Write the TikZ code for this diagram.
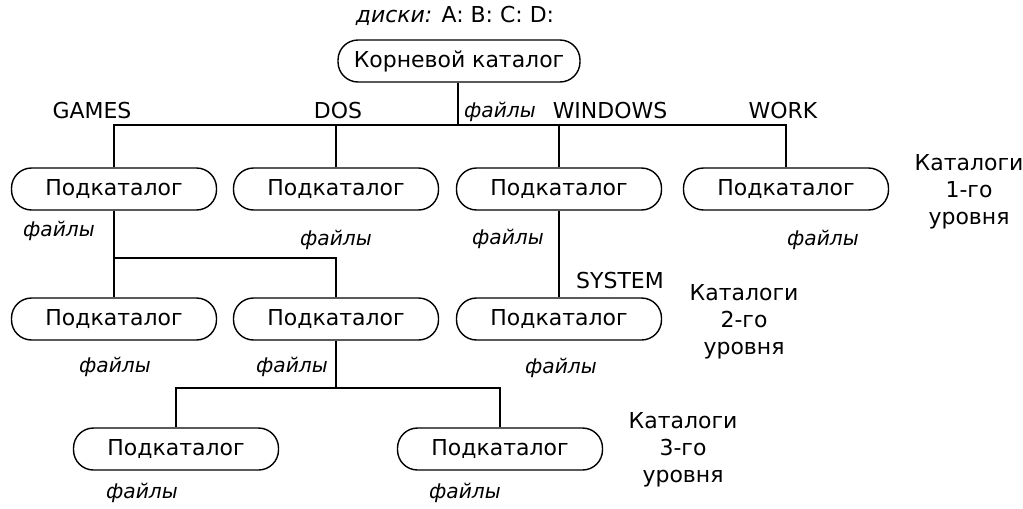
\documentclass[tikz,border=0pt]{standalone}
\usepackage{fontspec}
\setmainfont{DejaVu Sans}
\usetikzlibrary{calc}

\begin{document}
\begin{tikzpicture}[x = 0.02cm, y = -0.02cm,
        dirbox/.style = {draw, line width = 0.8pt, rounded corners = 0.4cm, minimum width = 4.1cm, minimum height = 0.84cm, font = \fontsize{12.5}{14}\selectfont},
        lbl/.style = {font = \fontsize{12.5}{14}\selectfont},
        files/.style = {font = \fontsize{11.5}{14}\selectfont\itshape},
        levellbl/.style = {align = center, font = \fontsize{12.5}{15.5}\selectfont},
        conn/.style = {line width = 0.6pt}] % directory tree
        \useasboundingbox (0, 0) rectangle (1023, 508);

        % Root
        \node[lbl] (disks) at (455, 16) {\textit{диски:} A: B: C: D:};
        \node[dirbox, minimum width = 4.84cm] (root) at (459, 61) {Корневой каталог};
        \node[lbl] (nGames) at (92, 110) {GAMES};
        \node[lbl] (nDos) at (338, 110) {DOS};
        \node[files] (fRoot) at (500, 112) {файлы};
        \node[lbl] (nWin) at (610, 110) {WINDOWS};
        \node[lbl] (nWork) at (783, 110) {WORK};

        % Level 1
        \node[dirbox] (dGames) at (114, 189) {Подкаталог};
        \node[dirbox] (dDos) at (336, 189) {Подкаталог};
        \node[dirbox] (dWin) at (559, 189) {Подкаталог};
        \node[dirbox] (dWork) at (786, 189) {Подкаталог};
        \node[files] (fGames) at (59, 231) {файлы};
        \node[files] (fDos) at (336, 240) {файлы};
        \node[files] (fWin) at (508, 239) {файлы};
        \node[files] (fWork) at (823, 240) {файлы};
        \node[levellbl] (lvl1) at (969, 192) {Каталоги\\1-го\\уровня};

        % Level 2
        \node[dirbox] (sA) at (114, 319) {Подкаталог};
        \node[dirbox] (sB) at (336, 319) {Подкаталог};
        \node[dirbox] (sSys) at (559, 319) {Подкаталог};
        \node[lbl] (nSys) at (620, 280) {SYSTEM};
        \node[files] (fA) at (115, 367) {файлы};
        \node[files] (fB) at (292, 367) {файлы};
        \node[files] (fSys) at (561, 368) {файлы};
        \node[levellbl] (lvl2) at (744, 322) {Каталоги\\2-го\\уровня};

        % Level 3
        \node[dirbox] (tA) at (176, 449) {Подкаталог};
        \node[dirbox] (tB) at (500, 449) {Подкаталог};
        \node[files] (fTA) at (142, 493) {файлы};
        \node[files] (fTB) at (465, 493) {файлы};
        \node[levellbl] (lvl3) at (683, 450) {Каталоги\\3-го\\уровня};

        % Connectors
        \coordinate (bus0) at (458, 125);
        \coordinate (bus1) at (0, 258);
        \coordinate (bus2) at (0, 388);
        \draw[conn] (root.south -| bus0) -- (bus0);
        \draw[conn] (dGames.north) |- (bus0) -| (dWork.north);
        \foreach \n in {dDos, dWin}
            \draw[conn] (\n.north) -- (\n.north |- bus0);
        \draw[conn] (dGames.south) -- (sA.north);
        \draw[conn] (sA.north |- bus1) -| (sB.north);
        \draw[conn] (dWin.south) -- (sSys.north);
        \draw[conn] (sB.south) -- (sB.south |- bus2);
        \draw[conn] (tA.north) |- (sB.south |- bus2) -| (tB.north);
    \end{tikzpicture}
\end{document}
